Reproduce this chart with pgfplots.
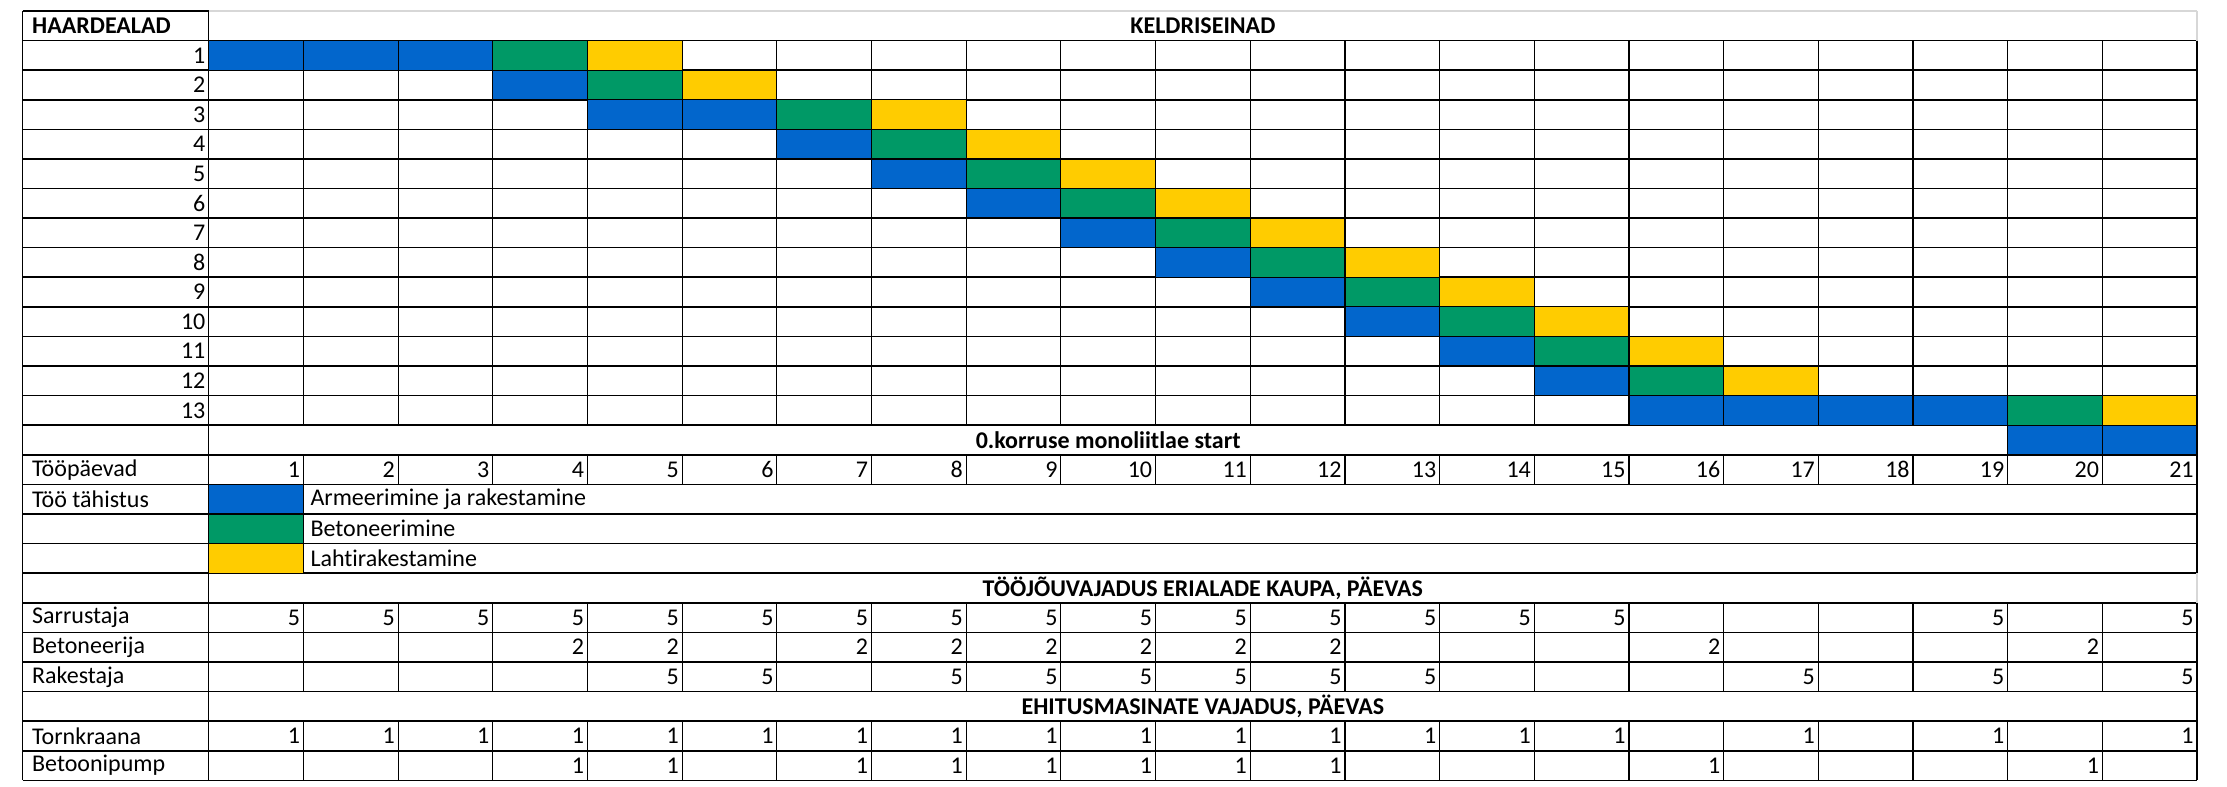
\documentclass[border=0pt]{standalone}
\usepackage{fontspec}
\setmainfont{Carlito}[Ligatures={NoCommon}]
\usepackage{pgfplots}
\usepackage{pgfplotstable}
\pgfplotsset{compat=1.18}
\definecolor{cblue}{RGB}{2,102,204}
\definecolor{cgreen}{RGB}{0,153,102}
\definecolor{cyellow}{RGB}{255,204,0}
\definecolor{lgray}{RGB}{215,215,215}
\pgfdeclareplotmark{cell}{\pgfpathrectangle{\pgfqpoint{-23.675pt}{-7.4pt}}{\pgfqpoint{47.35pt}{14.8pt}}\pgfusepathqfillstroke}

% Gantt cells: day, row (row 1..13 = haardealad, 14 = monoliitlae start)
\pgfplotstableread{
day row
1 1
2 1
3 1
4 2
5 3
6 3
7 4
8 5
9 6
10 7
11 8
12 9
13 10
14 11
15 12
16 13
17 13
18 13
19 13
20 14
21 14
}\blueCells
\pgfplotstableread{
day row
4 1
5 2
7 3
8 4
9 5
10 6
11 7
12 8
13 9
14 10
15 11
16 12
20 13
}\greenCells
\pgfplotstableread{
day row
5 1
6 2
8 3
9 4
10 5
11 6
12 7
13 8
14 9
15 10
16 11
17 12
21 13
}\yellowCells
% Workforce / machines per day
\pgfplotstableread{
day val
1 5
2 5
3 5
4 5
5 5
6 5
7 5
8 5
9 5
10 5
11 5
12 5
13 5
14 5
15 5
19 5
21 5
}\sarrustaja
\pgfplotstableread{
day val
4 2
5 2
7 2
8 2
9 2
10 2
11 2
12 2
16 2
20 2
}\betoneerija
\pgfplotstableread{
day val
5 5
6 5
8 5
9 5
10 5
11 5
12 5
13 5
17 5
19 5
21 5
}\rakestaja
\pgfplotstableread{
day val
1 1
2 1
3 1
4 1
5 1
6 1
7 1
8 1
9 1
10 1
11 1
12 1
13 1
14 1
15 1
17 1
19 1
21 1
}\tornkraana
\pgfplotstableread{
day val
4 1
5 1
7 1
8 1
9 1
10 1
11 1
12 1
16 1
20 1
}\betoonipump
\pgfplotstableread{
day val
1 1
2 2
3 3
4 4
5 5
6 6
7 7
8 8
9 9
10 10
11 11
12 12
13 13
14 14
15 15
16 16
17 17
18 18
19 19
20 20
21 21
}\paevad

\begin{document}
\begin{tikzpicture}[font=\fontsize{12}{14}\selectfont]
\begin{axis}[
  x=47.35pt, y=14.8pt,
  xmin=-2.205, xmax=21.317, ymin=-26.2, ymax=0.37,
  hide axis, clip=false,
  every axis plot/.append style={only marks},
  numcell/.style={mark=none, point meta=explicit symbolic, nodes near coords,
    every node near coord/.append style={anchor=east, inner sep=1.5pt, text=black, font=\fontsize{12}{14}\selectfont}},
]
\path (axis cs:-2.205,0.37) rectangle (axis cs:21.317,-26.2);

% coloured cells
\addplot[mark=cell, mark options={fill=cblue, draw=black, line width=0.6pt}]
  table[x expr=\thisrow{day}-0.5, y expr=-\thisrow{row}-0.5] {\blueCells};
\addplot[mark=cell, mark options={fill=cgreen, draw=black, line width=0.6pt}]
  table[x expr=\thisrow{day}-0.5, y expr=-\thisrow{row}-0.5] {\greenCells};
\addplot[mark=cell, mark options={fill=cyellow, draw=black, line width=0.6pt}]
  table[x expr=\thisrow{day}-0.5, y expr=-\thisrow{row}-0.5] {\yellowCells};
% legend swatches
\addplot[mark=cell, mark options={fill=cblue, draw=black, line width=0.6pt}] coordinates {(0.5,-16.5)};
\addplot[mark=cell, mark options={fill=cgreen, draw=black, line width=0.6pt}] coordinates {(0.5,-17.5)};
\addplot[mark=cell, mark options={fill=cyellow, draw=black, line width=0.6pt}] coordinates {(0.5,-18.5)};

% numbers
\addplot[numcell] table[x=day, y expr=-15.5, meta=val] {\paevad};
\addplot[numcell] table[x=day, y expr=-20.5, meta=val] {\sarrustaja};
\addplot[numcell] table[x=day, y expr=-21.5, meta=val] {\betoneerija};
\addplot[numcell] table[x=day, y expr=-22.5, meta=val] {\rakestaja};
\addplot[numcell] table[x=day, y expr=-24.5, meta=val] {\tornkraana};
\addplot[numcell] table[x=day, y expr=-25.5, meta=val] {\betoonipump};

% grid
\pgfplotsinvokeforeach{1,...,26}{\draw[black, line width=0.8pt] (axis cs:-1.965,-#1) -- (axis cs:21,-#1);}
\draw[black, line width=0.8pt] (axis cs:-1.965,0) -- (axis cs:0,0);
\draw[lgray, line width=0.75pt] (axis cs:0,0) -- (axis cs:21,0);
\draw[black, line width=0.7pt] (axis cs:-1.965,0) -- (axis cs:-1.965,-26);
\draw[black, line width=0.7pt] (axis cs:0,0) -- (axis cs:0,-26);
\draw[lgray, line width=0.7pt] (axis cs:21,0) -- (axis cs:21,-1);
\draw[black, line width=0.7pt] (axis cs:21,-1) -- (axis cs:21,-19);
\draw[lgray, line width=0.7pt] (axis cs:21,-19) -- (axis cs:21,-20);
\draw[black, line width=0.7pt] (axis cs:21,-20) -- (axis cs:21,-26);
\pgfplotsinvokeforeach{1,...,20}{
  \draw[black, line width=0.6pt] (axis cs:#1,-1) -- (axis cs:#1,-14);
  \draw[black, line width=0.6pt] (axis cs:#1,-15) -- (axis cs:#1,-16);
  \draw[black, line width=0.6pt] (axis cs:#1,-20) -- (axis cs:#1,-23);
  \draw[black, line width=0.6pt] (axis cs:#1,-24) -- (axis cs:#1,-26);
}
\draw[black, line width=0.6pt] (axis cs:19,-14) -- (axis cs:19,-15);
\draw[black, line width=0.6pt] (axis cs:20,-14) -- (axis cs:20,-15);
\draw[black, line width=0.6pt] (axis cs:1,-16) -- (axis cs:1,-19);

% labels
\node[anchor=west, font=\fontsize{12}{14}\selectfont\bfseries] at (axis cs:-1.94,-0.5) {HAARDEALAD};
\node[font=\fontsize{12}{14}\selectfont\bfseries] at (axis cs:10.5,-0.5) {KELDRISEINAD};
\pgfplotsinvokeforeach{1,...,13}{\node[anchor=east, inner sep=1.5pt] at (axis cs:0,-#1-0.5) {#1};}
\node[font=\fontsize{12}{14}\selectfont\bfseries] at (axis cs:9.5,-14.5) {0.korruse monoliitlae start};
\node[anchor=west] at (axis cs:-1.94,-15.5) {Tööpäevad};
\node[anchor=west] at (axis cs:-1.94,-16.5) {Töö tähistus};
\node[anchor=west] at (axis cs:1,-16.5) {Armeerimine ja rakestamine};
\node[anchor=west] at (axis cs:1,-17.5) {Betoneerimine};
\node[anchor=west] at (axis cs:1,-18.5) {Lahtirakestamine};
\node[font=\fontsize{12}{14}\selectfont\bfseries] at (axis cs:10.5,-19.5) {TÖÖJÕUVAJADUS ERIALADE KAUPA, PÄEVAS};
\node[anchor=west] at (axis cs:-1.94,-20.5) {Sarrustaja};
\node[anchor=west] at (axis cs:-1.94,-21.5) {Betoneerija};
\node[anchor=west] at (axis cs:-1.94,-22.5) {Rakestaja};
\node[font=\fontsize{12}{14}\selectfont\bfseries] at (axis cs:10.5,-23.5) {EHITUSMASINATE VAJADUS, PÄEVAS};
\node[anchor=west] at (axis cs:-1.94,-24.5) {Tornkraana};
\node[anchor=west] at (axis cs:-1.94,-25.5) {Betoonipump};
\end{axis}
\end{tikzpicture}
\end{document}
